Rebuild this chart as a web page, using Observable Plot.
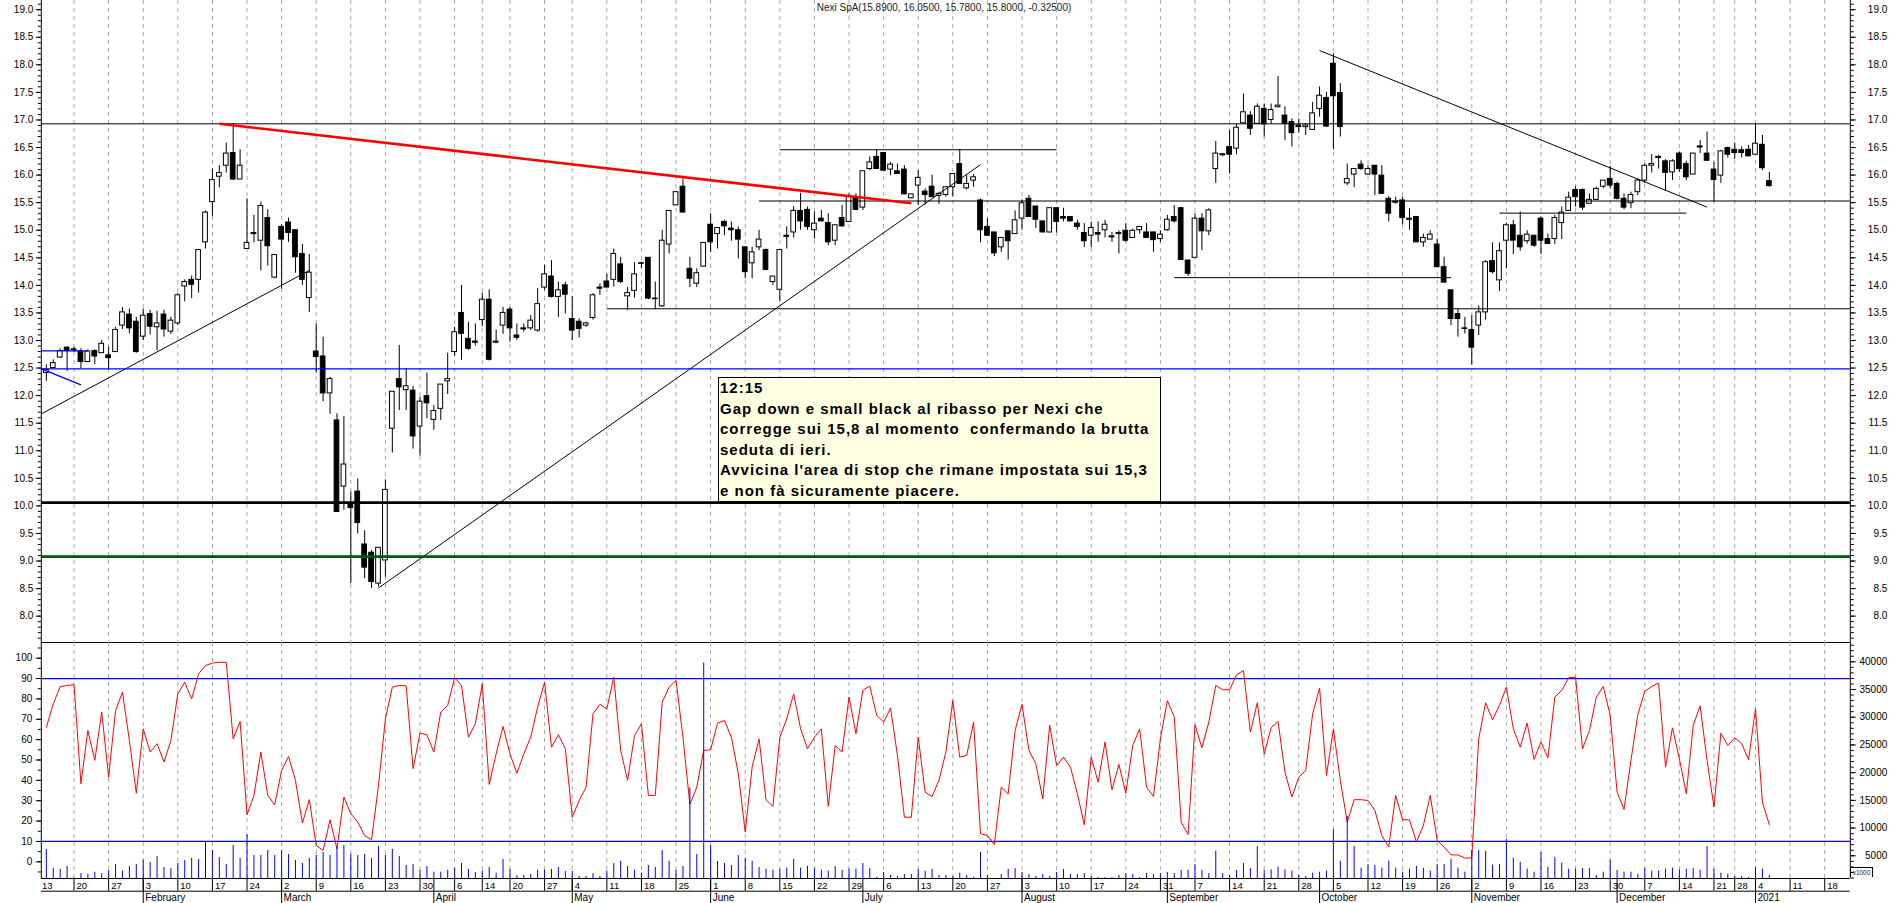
<!DOCTYPE html>
<html>
<head>
<meta charset="utf-8">
<script src="https://cdn.jsdelivr.net/npm/d3@7"></script>
<script src="https://cdn.jsdelivr.net/npm/@observablehq/plot@0.6"></script>
<style>
  html, body { margin: 0; padding: 0; background: #fff; }
  #chart { position: relative; width: 1890px; height: 903px; overflow: hidden; background: #fff;
           font-family: "Liberation Sans", Arial, sans-serif; }
  #chart svg { position: absolute; left: 0; overflow: visible; }
  #title { position: absolute; top: 0; left: 0; width: 1888px; text-align: center; font-size: 10px;
           line-height: 15px; color: #222; }
  #note { position: absolute; left: 718px; top: 377px; width: 443px; height: 125px; box-sizing: border-box;
          background: #ffffe1; border: 1px solid #000; padding: 0 0 0 1px; font-weight: bold; font-size: 15px;
          letter-spacing: 1px; line-height: 20.6px; white-space: pre; color: #000; }
  #mult { position: absolute; left: 1850px; top: 867px; width: 23px; height: 10px; box-sizing: border-box;
          border: 1px solid #000; border-bottom: none; font-size: 6.5px; line-height: 9px; text-align: center; color: #223; }
</style>
</head>
<body>
<div id="chart"></div>
<script>
// ---------------- DATA ----------------
const holidays = ["2020-04-10","2020-04-13","2020-05-01","2020-12-24","2020-12-25","2020-12-31","2021-01-01"];
const monthNames = ["January","February","March","April","May","June","July","August","September","October","November","December"];
const firstDate = "2020-01-14";

const open = [
 12.41,12.50,12.69,12.87,12.82,12.80,12.61,12.81,12.77,12.73,
 12.79,13.27,13.47,13.34,13.07,13.48,13.24,13.47,13.16,13.31,
 13.98,14.10,14.10,14.78,15.51,15.97,16.17,16.40,15.92,14.66,
 14.95,14.81,15.22,14.14,15.06,15.14,15.00,14.57,13.77,12.80,
 12.71,12.04,11.55,10.35,10.05,10.26,9.30,9.15,8.59,9.01,
 11.40,12.30,12.10,12.09,11.44,11.99,11.56,11.76,12.26,12.79,
 13.50,13.03,12.98,13.37,13.74,12.96,13.27,13.56,13.09,13.22,
 13.22,13.18,13.96,14.16,13.79,14.00,13.39,13.34,13.27,13.41,
 13.96,14.07,14.10,14.38,13.80,13.90,14.40,14.50,13.76,13.62,
 14.74,15.45,15.79,14.30,14.03,14.34,15.10,14.93,15.15,15.03,
 15.00,14.69,14.40,14.69,14.64,14.06,13.92,14.88,14.96,15.35,
 15.37,15.00,15.21,15.13,14.81,15.22,15.15,15.58,15.41,16.11,
 16.33,16.40,16.10,16.07,16.10,15.58,15.81,15.70,15.79,15.62,
 15.64,15.78,16.20,15.76,15.90,15.54,15.06,14.96,14.69,14.98,
 14.93,15.21,15.57,15.43,15.16,14.96,15.40,15.24,15.24,15.12,
 14.95,14.90,14.95,15.00,14.87,14.95,14.99,14.86,15.00,14.96,
 14.96,14.84,15.00,15.24,15.40,14.45,14.50,15.21,14.98,16.11,
 16.36,16.51,16.48,16.94,17.08,16.93,17.20,17.00,17.23,17.08,
 16.96,16.90,16.87,16.82,17.20,17.40,18.02,17.49,15.85,16.01,
 16.19,16.01,16.17,15.99,15.57,15.52,15.54,15.21,15.24,14.78,
 14.83,14.74,14.33,13.91,13.48,13.22,13.19,13.27,13.51,14.44,
 14.09,14.81,15.09,14.90,14.80,14.90,15.21,14.84,14.84,15.13,
 15.35,15.73,15.73,15.48,15.55,15.79,15.93,15.84,15.57,15.49,
 15.69,15.90,16.17,16.33,16.25,16.05,16.39,16.20,16.01,16.52,
 16.39,16.10,15.99,16.49,16.46,16.45,16.46,16.37,16.55,15.89];
const high = [
 12.56,12.65,12.85,12.89,12.88,12.85,12.83,12.83,13.00,12.88,
 13.24,13.60,13.57,13.42,13.57,13.55,13.53,13.55,13.42,13.85,
 14.10,14.17,14.64,15.35,16.11,16.17,16.58,16.93,16.46,15.57,
 15.27,15.51,15.37,14.56,15.10,15.22,15.00,14.74,14.56,13.30,
 13.06,12.33,11.67,11.62,10.25,10.49,9.55,9.19,9.24,10.47,
 12.07,12.91,12.49,12.17,11.97,12.41,11.82,12.20,12.77,13.24,
 14.00,13.33,13.30,13.86,13.92,13.19,13.60,13.60,13.30,13.30,
 13.45,13.94,14.36,14.45,14.06,14.06,13.80,13.39,13.33,13.85,
 14.03,14.20,14.66,14.51,13.96,14.41,14.42,14.50,14.06,15.00,
 15.35,15.69,15.93,14.51,14.30,14.77,15.30,15.04,15.18,15.15,
 15.06,14.69,14.69,15.00,14.66,14.16,14.64,15.06,15.43,15.67,
 15.42,15.33,15.36,15.30,15.09,15.45,15.66,15.66,16.07,16.33,
 16.45,16.40,16.23,16.20,16.17,15.65,16.08,15.75,16.00,15.69,
 15.78,16.02,16.46,15.99,16.01,15.57,15.21,14.96,14.86,14.98,
 15.35,15.55,15.63,15.43,15.16,15.40,15.40,15.40,15.24,15.18,
 15.12,15.15,15.15,15.18,14.96,14.99,15.12,15.02,15.06,15.12,
 14.96,14.99,15.27,15.45,15.40,14.45,15.30,15.30,15.39,16.61,
 16.38,16.81,16.92,17.47,17.15,17.29,17.29,17.29,17.79,17.24,
 17.02,17.02,16.93,17.32,17.60,17.50,18.20,17.66,16.20,16.11,
 16.26,16.17,16.17,16.17,15.61,15.60,15.60,15.39,15.24,14.93,
 14.99,14.84,14.51,13.91,13.57,13.42,13.45,13.63,14.45,14.77,
 14.77,15.13,15.18,15.33,14.99,14.90,15.24,14.93,15.27,15.42,
 15.69,15.79,15.75,15.66,15.78,15.90,16.16,15.87,15.66,15.69,
 15.93,16.20,16.37,16.36,16.28,16.28,16.42,16.25,16.39,16.63,
 16.78,16.23,16.45,16.51,16.58,16.51,16.54,16.93,16.72,16.05];
const low = [
 12.26,12.49,12.68,12.44,12.78,12.49,12.61,12.56,12.77,12.47,
 12.79,13.20,13.12,12.77,13.00,13.10,12.81,13.06,13.11,13.27,
 13.70,13.76,13.86,14.66,15.25,15.77,16.04,15.90,15.92,14.66,
 14.77,14.26,14.35,14.12,13.93,14.78,14.22,14.00,13.51,12.41,
 11.89,11.66,9.89,9.92,8.59,9.49,8.68,8.50,8.53,8.71,
 10.96,11.73,11.73,11.03,10.90,11.58,11.37,11.55,12.02,12.71,
 12.64,12.82,12.90,13.25,12.63,12.94,13.11,12.97,13.00,13.15,
 13.18,13.15,13.91,13.77,13.42,13.48,13.00,13.05,13.24,13.37,
 13.82,13.96,13.97,14.03,13.54,13.77,14.30,13.74,13.56,13.60,
 14.57,15.45,15.32,13.96,13.96,14.34,14.60,14.66,14.90,14.80,
 14.48,14.12,14.12,14.63,14.28,14.00,13.70,14.66,14.86,15.00,
 15.00,14.84,15.16,14.72,14.72,15.06,15.15,15.37,15.36,16.08,
 16.11,16.08,15.99,16.02,15.65,15.57,15.45,15.45,15.60,15.47,
 15.60,15.60,15.84,15.73,15.78,14.77,14.90,14.52,14.60,14.46,
 14.93,15.00,15.24,15.03,14.95,14.95,14.95,15.15,15.15,15.00,
 14.69,14.68,14.78,14.86,14.78,14.57,14.78,14.86,14.93,14.86,
 14.60,14.78,14.98,15.13,14.46,14.16,14.50,14.63,14.90,15.85,
 16.33,16.02,16.37,16.94,16.72,16.93,16.69,16.93,17.22,16.63,
 16.51,16.76,16.72,16.82,17.05,16.87,16.46,16.69,15.81,15.77,
 16.08,15.99,15.63,15.66,15.15,15.47,15.10,15.00,14.78,14.69,
 14.83,14.33,14.05,13.27,13.06,13.12,12.55,13.09,13.37,14.21,
 13.89,14.30,14.56,14.62,14.75,14.69,14.56,14.74,14.74,14.83,
 15.35,15.42,15.36,15.48,15.54,15.75,15.75,15.55,15.37,15.39,
 15.63,15.85,16.04,16.11,15.71,15.90,16.05,15.90,16.01,16.39,
 16.25,15.51,15.85,16.31,16.28,16.31,16.34,16.37,16.08,15.78];
const close = [
 12.47,12.59,12.81,12.81,12.84,12.61,12.80,12.71,12.94,12.68,
 13.19,13.51,13.22,12.79,13.45,13.25,13.31,13.20,13.36,13.82,
 14.06,14.01,14.64,15.32,15.91,16.04,16.39,15.92,16.17,14.77,
 14.93,15.44,14.71,14.55,14.83,14.95,14.51,14.10,14.23,12.70,
 12.04,12.30,9.89,10.75,9.96,9.69,8.88,8.62,9.24,10.29,
 12.07,12.15,12.17,11.26,11.89,11.86,11.72,12.20,12.30,13.15,
 13.12,12.85,12.96,13.74,12.65,12.98,13.50,13.22,13.05,13.20,
 13.36,13.66,14.20,13.79,13.91,13.83,13.18,13.21,13.31,13.82,
 13.94,13.96,14.57,14.06,13.86,14.20,14.39,13.76,13.75,14.81,
 15.35,15.69,15.32,14.12,14.22,14.77,14.78,15.04,15.07,15.00,
 14.83,14.24,14.60,14.83,14.28,14.16,14.64,14.90,15.35,15.16,
 15.06,15.12,15.16,14.78,15.09,15.07,15.60,15.37,16.07,16.23,
 16.11,16.08,16.19,16.02,15.65,15.65,15.95,15.64,15.60,15.66,
 15.78,16.02,15.84,15.84,15.96,15.00,14.90,14.58,14.86,14.80,
 15.18,15.49,15.24,15.19,14.96,15.40,15.15,15.21,15.16,15.06,
 14.80,15.04,14.92,15.10,14.89,14.93,14.81,14.99,15.06,14.86,
 14.82,14.92,15.19,15.16,14.46,14.21,15.21,14.98,15.36,16.39,
 16.38,16.37,16.86,17.14,16.84,17.24,16.92,17.18,17.26,16.93,
 16.76,16.87,16.90,17.12,17.44,16.88,17.43,16.87,15.93,16.11,
 16.11,16.11,16.01,15.66,15.30,15.50,15.22,15.19,14.78,14.86,
 14.92,14.33,14.05,13.39,13.39,13.21,12.87,13.51,14.42,14.24,
 14.62,15.09,14.81,14.69,14.92,14.72,14.81,14.75,15.22,15.32,
 15.59,15.60,15.41,15.55,15.75,15.90,15.81,15.57,15.41,15.64,
 15.90,16.17,16.20,16.31,16.04,16.25,16.11,15.96,16.39,16.50,
 16.26,15.91,16.43,16.37,16.40,16.40,16.34,16.57,16.125,15.80];
const oscillator = [
 66,77.6,86,86.6,87,38.3,64.5,49.8,73.5,41.6,
 74.3,83.3,59.6,33.7,65.3,53.9,58,49,59.6,82.5,
 88.2,80,92.3,96.4,97.6,98,98,60.4,68.9,23.1,
 32.6,53.9,32.6,28,44.9,51.7,40,19,30.5,8,
 5.6,20.6,6.4,31.8,23.6,19.5,12.9,10.8,37.5,70.2,
 85.8,86.6,86.4,45.7,63.2,62.4,53.9,73.5,76.8,90.4,
 86.6,61.2,67.8,87.4,38,53,66.5,53,43.5,53,
 61.2,76,88.2,56.3,62.4,55.5,21.9,30.1,36.7,72.7,
 77.3,75.1,90.7,54.7,40,62,67.8,32.6,32.6,78.4,
 85.8,89.1,61.2,28.2,36.7,54.7,55,68.1,69.4,61.2,
 43.2,14.6,46.5,60.4,30.5,27.2,61.2,70.2,82.5,65.3,
 55.5,61.2,65.3,27.2,57.1,53.9,80.9,62.9,84.2,86.3,
 71.9,68.6,75.5,52.2,21.9,21.9,61.2,34.2,32.1,40,
 53.9,79.2,51.4,52.2,68.6,13.8,12.9,8.5,36.7,33.4,
 64.5,77.3,54.7,48.1,30.9,67,47.3,51.4,46.5,33.4,
 18.2,51.4,39.1,58.8,35.4,47.8,33.7,57.1,65.3,36.7,
 32.1,60.4,79.2,71.1,19.5,13.4,67.3,56,68.6,86.6,
 84.5,84.5,91.8,94,63.7,78.1,53,65.8,68.9,44,
 31.8,41.6,44.9,72.7,85.3,42.4,65.3,40,19.5,30.5,
 30.5,30.1,25.2,12.9,7.2,32.6,20.6,20.6,9.7,17.8,
 32.6,10.5,7.2,3.4,3.4,1.8,2,60.4,78.1,69.7,
 76.8,85.8,65.3,56.3,68.1,50.3,58.8,51.1,80.9,84.2,
 90.4,90.7,55.5,64.5,80.9,86.1,71.9,34.2,25.7,49.8,
 72.4,83.8,86.1,87.8,46.5,65.8,50.6,33.4,67,76.6,
 49.8,26.9,63.2,57.1,60.9,58,50.1,75.1,29.3,18.2];
const volume = [
 6140,2710,2530,3070,1000,1800,1690,2050,1800,2290,
 3430,2230,3070,3430,4210,3790,4880,2890,2710,3610,
 4150,4520,4330,7590,5960,4700,3430,6860,4520,8850,
 5060,5060,5960,5060,5960,5240,4150,3610,4520,5060,
 5600,5060,6560,6860,5300,5060,5240,4520,6680,5060,
 6140,4880,3250,3430,2350,3070,2050,2050,2350,2710,
 3610,2530,1990,2230,2890,1870,4330,2530,1380,1440,
 1630,2410,2410,2530,2890,2170,2170,1260,1260,1800,
 1260,2230,3610,3970,3070,2410,1870,3250,2890,5960,
 4030,2350,3070,17220,5240,39790,6860,3970,3610,3250,
 5060,4520,4030,2890,2590,2410,2590,2770,4330,2770,
 3070,2710,2410,2230,3070,2350,2590,2590,3610,2710,
 1140,1990,1440,1260,1630,1630,2530,2230,2530,1440,
 1440,1260,1870,1440,1140,5600,1380,900,1630,2530,
 2710,1990,1630,1260,1630,1260,1990,2530,1630,1630,
 1800,1260,1080,1080,1080,1440,1800,1630,1080,1800,
 1630,1800,1990,1800,2350,2350,3430,2350,1800,5840,
 1800,1440,2350,3610,2710,6680,2350,2470,2950,2470,
 2230,1440,1260,1870,2050,2230,9690,4030,12100,6680,
 2770,3430,3250,2770,4030,2770,2050,2590,3070,2770,
 2230,3430,3430,4390,2770,2050,5960,5960,5780,3310,
 3430,7950,4580,3850,2590,2050,5600,2950,4700,3670,
 2590,2590,2710,2710,1440,2050,4210,2350,2050,2050,
 1630,2710,2230,2230,2590,2770,2470,2590,2710,2410,
 6680,2590,1870,1690,1260,1260,1080,2890,2590,1440];

// tick labels
const priceTicks = d3.range(8, 19.001, 0.5);
const oscTicks = d3.range(0, 100.1, 10);
const volTicks = d3.range(5000, 40001, 5000);

// drawn support / resistance levels (price, start date, end date)
const levelLines = [
  {price: 16.93, from: null, to: null, kind: "thin"},
  {price: 15.53, from: "2020-06-10", to: null, kind: "thin"},
  {price: 13.575, from: "2020-05-11", to: null, kind: "thin"},
  {price: 16.46, from: "2020-06-15", to: "2020-08-10", kind: "thin"},
  {price: 14.14, from: "2020-09-02", to: "2020-10-28", kind: "thin"},
  {price: 15.31, from: "2020-11-06", to: "2020-12-15", kind: "thin"},
  {price: 12.486, from: null, to: null, kind: "blue"},
  {price: 12.81, from: null, to: "2020-01-22", kind: "blue"},
  {price: 10.06, from: null, to: null, kind: "thick"},
  {price: 9.08, from: null, to: null, kind: "green"}
];
// drawn trend lines
const trendLines = [
  {d1: "2020-01-13", p1: 12.50, d2: "2020-01-21", p2: 12.195, kind: "blue"},
  {d1: "2020-01-13", p1: 11.65, d2: "2020-03-06", p2: 14.27, kind: "thin"},
  {d1: "2020-02-18", p1: 16.93, d2: "2020-07-10", p2: 15.49, kind: "red"},
  {d1: "2020-03-20", p1: 8.51, d2: "2020-07-24", p2: 16.19, kind: "thin"},
  {d1: "2020-10-01", p1: 18.26, d2: "2020-12-18", p2: 15.42, kind: "thin"}
];
const noteLines = [
  "12:15",
  "Gap down e small black al ribasso per Nexi che",
  "corregge sui 15,8 al momento  confermando la brutta",
  "seduta di ieri.",
  "Avvicina l'area di stop che rimane impostata sui 15,3",
  "e non fà sicuramente piacere."
];

// ---------------- CALENDAR (trading days) ----------------
const calendar = [];
for (let d = new Date(Date.UTC(2020, 0, 13)); d <= new Date(Date.UTC(2021, 0, 22)); d.setUTCDate(d.getUTCDate() + 1)) {
  const s = d.toISOString().slice(0, 10), wd = d.getUTCDay();
  if (wd === 0 || wd === 6 || holidays.includes(s)) continue;
  calendar.push(s);
}
const pos = s => calendar.indexOf(s);
const weekTicks = [], monthTicks = [];
calendar.forEach((s, i) => {
  const d = new Date(s + "T00:00:00Z");
  const p = i > 0 ? new Date(calendar[i - 1] + "T00:00:00Z") : null;
  if (!p || d.getUTCDay() <= p.getUTCDay()) weekTicks.push({i, label: String(d.getUTCDate())});
  if (p && d.getUTCMonth() !== p.getUTCMonth())
    monthTicks.push({i, label: d.getUTCMonth() === 0 ? String(d.getUTCFullYear()) : monthNames[d.getUTCMonth()]});
});

const start = pos(firstDate);
const candles = open.map((o, k) => ({i: start + k, o, h: high[k], l: low[k], c: close[k]}));
const osc = oscillator.map((v, k) => ({i: start + k, v}));
const vols = volume.map((v, k) => ({i: start + k, v}));

// ---------------- LAYOUT ----------------
const FONT = "'Liberation Sans', Arial, sans-serif";
const xDomain = [0.27, 261.7];
const ML = 40.8, MR = 40.2, W = 1890;
const inX = d => d.i >= xDomain[0] && d.i <= xDomain[1];
const common = {
  width: W, marginLeft: ML, marginRight: MR, marginTop: 0, marginBottom: 0,
  x: {type: "linear", domain: xDomain, axis: null},
  style: {overflow: "visible", background: "transparent", fontFamily: FONT, fontSize: "10px", color: "#000"}
};
const lineStyle = {
  thin: {stroke: "#000", strokeWidth: 1},
  blue: {stroke: "#0000ff", strokeWidth: 1.3},
  thick: {stroke: "#000", strokeWidth: 2.6},
  green: {stroke: "#005a00", strokeWidth: 2.6},
  red: {stroke: "#ff0000", strokeWidth: 2.6}
};
const grid = () => Plot.ruleX(weekTicks.filter(inX), {x: "i", stroke: "#a6a6a6", strokeWidth: 1, strokeDasharray: "4,4"});
const frameSides = () => Plot.ruleX(xDomain, {stroke: "#000", strokeWidth: 1});
const yAxis = (ticks, opts) => Plot.axisY(ticks, {label: null, ...opts});

const chart = document.getElementById("chart");
function place(svg, top) { svg.style.top = top + "px"; chart.appendChild(svg); }

// ----- price panel -----
const yPrice = [7.522, 19.167];
const minorPrice = d3.range(7.6, 19.12, 0.1);
const priceMarks = [
  grid(),
  Plot.ruleX(candles, {x: "i", y1: "l", y2: "h", stroke: "#000", strokeWidth: 1}),
  Plot.rect(candles, {x1: d => d.i - 0.34, x2: d => d.i + 0.34, y1: "o", y2: "c",
    fill: d => d.c >= d.o ? "#ffffff" : "#000000", stroke: "#000", strokeWidth: 1})
];
for (const kind of Object.keys(lineStyle)) {
  const lv = levelLines.filter(d => d.kind === kind);
  if (lv.length) priceMarks.push(Plot.link(lv, {
    x1: d => d.from ? pos(d.from) : xDomain[0], x2: d => d.to ? pos(d.to) : xDomain[1],
    y1: "price", y2: "price", clip: true, ...lineStyle[kind]}));
  const tl = trendLines.filter(d => d.kind === kind);
  if (tl.length) priceMarks.push(Plot.link(tl, {
    x1: d => pos(d.d1), x2: d => pos(d.d2), y1: "p1", y2: "p2", clip: true, ...lineStyle[kind]}));
}
priceMarks.push(
  frameSides(),
  Plot.ruleY([yPrice[0]], {stroke: "#000", strokeWidth: 1.2}),
  yAxis(priceTicks, {anchor: "left", tickSize: 5, tickPadding: 3, tickFormat: d => d.toFixed(1), fontSize: 10}),
  yAxis(minorPrice, {anchor: "left", tickSize: 3, tickFormat: () => ""}),
  yAxis(priceTicks, {anchor: "right", tickSize: 5, tickPadding: 32, textAnchor: "end", tickFormat: d => d.toFixed(1), fontSize: 10}),
  yAxis(minorPrice, {anchor: "right", tickSize: 3, tickFormat: () => ""})
);
place(Plot.plot({...common, height: 642, y: {domain: yPrice, axis: null}, marks: priceMarks}), 0);

// ----- oscillator panel -----
place(Plot.plot({...common, height: 236, y: {domain: [-8.2, 107.7], axis: null}, marks: [
  grid(),
  Plot.ruleY([90, 10], {stroke: "#0000ff", strokeWidth: 1.3}),
  Plot.line(osc, {x: "i", y: "v", stroke: "#ff0000", strokeWidth: 1, clip: true}),
  frameSides(),
  yAxis(oscTicks, {anchor: "left", tickSize: 5, tickPadding: 4, fontSize: 10, tickFormat: d => String(d)}),
  yAxis(d3.range(-5, 106, 5), {anchor: "left", tickSize: 3, tickFormat: () => ""})
]}), 642);

// ----- volume overlay -----
place(Plot.plot({...common, height: 236, y: {domain: [905, 43482], axis: null}, marks: [
  Plot.ruleX(vols, {x: "i", y1: 0, y2: "v", stroke: "#0000ff", strokeWidth: 1, clip: true}),
  yAxis(volTicks, {anchor: "right", tickSize: 5, tickPadding: 32, textAnchor: "end", fontSize: 10, tickFormat: d => String(d)}),
  yAxis(d3.range(1000, 43001, 1000), {anchor: "right", tickSize: 3, tickFormat: () => ""})
]}), 642);

// ----- date axis strip -----
place(Plot.plot({...common, height: 25, y: {domain: [0, 25], range: [0, 25], axis: null}, marks: [
  Plot.ruleY([0, 12.7], {stroke: "#000", strokeWidth: 1}),
  Plot.ruleX(weekTicks.filter(inX), {x: "i", y1: 0, y2: 12.7, stroke: "#000"}),
  Plot.ruleX(monthTicks, {x: "i", y1: 0, y2: 25, stroke: "#000"}),
  Plot.text(weekTicks, {x: "i", y: 7, text: "label", textAnchor: "start", dx: 2.5, fontSize: 9.5, fill: "#000"}),
  Plot.text(monthTicks, {x: "i", y: 19.5, text: "label", textAnchor: "start", dx: 2, fontSize: 10, fill: "#000"})
]}), 878);

// ----- title, note, multiplier -----
const last = candles[candles.length - 1], prev = candles[candles.length - 2];
const t = document.createElement("div");
t.id = "title";
t.textContent = `Nexi SpA(${last.o.toFixed(4)}, ${last.h.toFixed(4)}, ${last.l.toFixed(4)}, ${last.c.toFixed(4)}, ${(last.c - prev.c).toFixed(5)})`;
chart.appendChild(t);
const n = document.createElement("div");
n.id = "note";
n.textContent = noteLines.join("\n");
chart.appendChild(n);
const m = document.createElement("div");
m.id = "mult";
m.textContent = "x1000";
chart.appendChild(m);
</script>
</body>
</html>
